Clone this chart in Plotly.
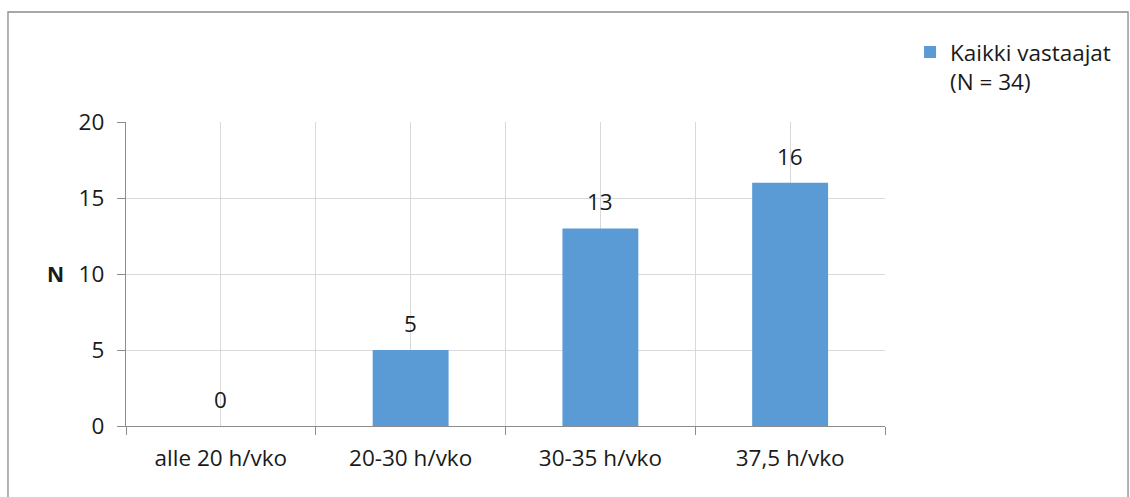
import plotly.graph_objects as go

# Weekly working hours, number of respondents
categories = ["alle 20 h/vko", "20-30 h/vko", "30-35 h/vko", "37,5 h/vko"]
counts = [0, 5, 13, 16]
series_name = "Kaikki vastaajat<br>(N = 34)"
y_ticks = [0, 5, 10, 15, 20]

FONT = "Open Sans"
FS = 22.5
BAR = "#5B9BD5"
GRID = "#D9D9D9"
AXIS = "#8C8C8C"
TXT = "#1a1a1a"

positions = list(range(len(categories)))
boundaries = [p - 0.5 for p in positions] + [positions[-1] + 0.5]

fig = go.Figure()
fig.add_trace(go.Bar(
    x=positions, y=counts, name=series_name,
    marker=dict(color=BAR, line=dict(width=0)),
    width=0.4, showlegend=True,
))

# value labels above each bar
for p, v in zip(positions, counts):
    fig.add_annotation(x=p, y=v, text=str(v), showarrow=False,
                       yanchor="bottom", yshift=9,
                       font=dict(family=FONT, size=FS, color=TXT))

# y-axis title
fig.add_annotation(x=-0.093, y=0.5, xref="paper", yref="paper", text="<b>N</b>",
                   showarrow=False, xanchor="center",
                   font=dict(family=FONT, size=21, color=TXT))

# outer chart frame
fig.add_shape(type="rect", xref="paper", yref="paper",
              x0=-0.1555, x1=1.3202, y0=-0.25, y1=1.3618,
              line=dict(color="#8A8A8A", width=1.3), layer="below")

fig.update_layout(
    width=1130, height=497,
    margin=dict(l=126, r=245, t=122, b=71),
    paper_bgcolor="white", plot_bgcolor="white",
    font=dict(family=FONT, size=FS, color=TXT),
    legend=dict(x=1.033, y=1.30, xanchor="left", yanchor="top",
                valign="top",
                font=dict(family=FONT, size=FS, color=TXT),
                itemwidth=30, tracegroupgap=0),
    xaxis=dict(
        range=[-0.5, len(categories) - 0.5],
        tickmode="array", tickvals=positions, ticktext=categories,
        showgrid=True, gridcolor=GRID, gridwidth=1,
        ticks="", showline=True, linecolor=AXIS, linewidth=1,
        tickfont=dict(family=FONT, size=FS, color=TXT),
        ticklabelstandoff=12,
        minor=dict(tickmode="array", tickvals=boundaries, showgrid=True,
                   gridcolor=GRID, gridwidth=1, ticks="outside",
                   ticklen=8, tickcolor=AXIS, tickwidth=1),
        zeroline=False, fixedrange=True,
    ),
    yaxis=dict(
        range=[0, 20], tickmode="array", tickvals=y_ticks,
        showgrid=True, gridcolor=GRID, gridwidth=1,
        ticks="outside", ticklen=8, tickcolor=AXIS, tickwidth=1,
        showline=True, linecolor=AXIS, linewidth=1.3,
        tickfont=dict(family=FONT, size=FS, color=TXT),
        ticklabelstandoff=8,
        zeroline=False, fixedrange=True,
    ),
)

fig.write_html("out.html")
